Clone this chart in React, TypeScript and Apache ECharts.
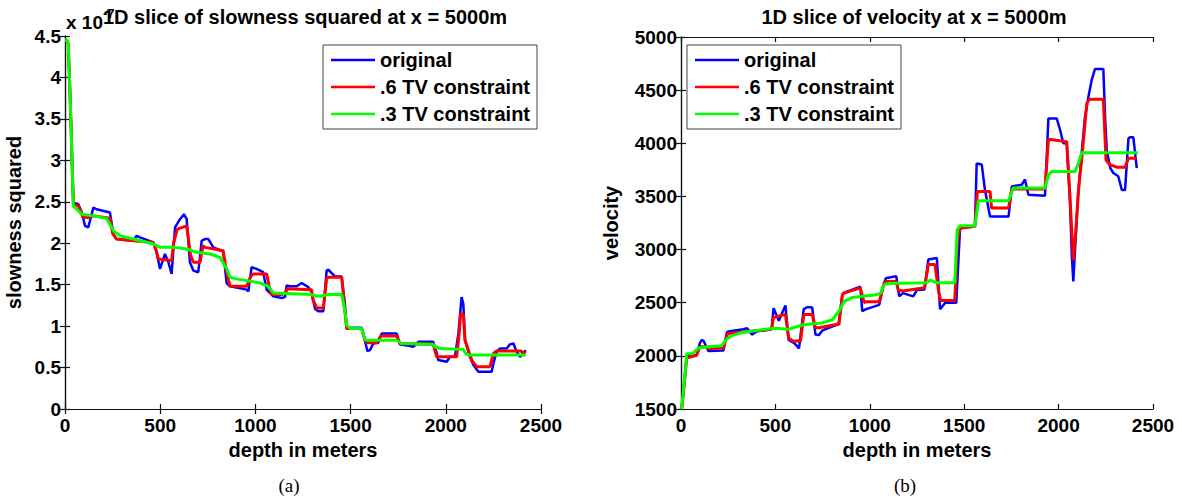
import React, { useEffect, useRef } from "react";
import * as echarts from "echarts";

// ---------- Data ----------
// Slowness squared (x 1e-7), left panel
const slowOrigDepth = [0, 10, 17, 25, 32, 38, 44, 70, 88, 105, 122, 149, 166, 236, 254, 271, 359, 376, 394, 464, 481, 499, 525, 543, 560, 578, 604, 625, 639, 656, 674, 700, 718, 735, 753, 779, 831, 849, 866, 954, 963, 980, 1006, 1041, 1059, 1094, 1138, 1155, 1164, 1181, 1217, 1243, 1278, 1295, 1313, 1330, 1357, 1374, 1383, 1418, 1453, 1470, 1479, 1488, 1558, 1575, 1588, 1602, 1619, 1646, 1663, 1742, 1759, 1812, 1829, 1856, 1934, 1952, 1960, 2005, 2022, 2048, 2066, 2083, 2092, 2101, 2127, 2145, 2171, 2241, 2250, 2267, 2285, 2320, 2337, 2355, 2372, 2390, 2407, 2420];
const slowOrigValue = [4.45, 4.45, 4.4, 3.9, 3.4, 2.9, 2.49, 2.47, 2.37, 2.21, 2.19, 2.43, 2.41, 2.37, 2.11, 2.05, 2.03, 2.09, 2.07, 2.01, 1.89, 1.69, 1.87, 1.77, 1.63, 2.19, 2.29, 2.35, 2.29, 1.77, 1.67, 1.65, 2.03, 2.05, 2.05, 1.95, 1.9, 1.52, 1.48, 1.44, 1.42, 1.71, 1.69, 1.65, 1.44, 1.36, 1.34, 1.35, 1.49, 1.48, 1.48, 1.52, 1.47, 1.41, 1.21, 1.18, 1.18, 1.67, 1.68, 1.6, 1.6, 1.27, 0.99, 0.98, 0.98, 0.83, 0.7, 0.71, 0.79, 0.8, 0.91, 0.91, 0.78, 0.76, 0.75, 0.81, 0.81, 0.68, 0.59, 0.57, 0.63, 0.63, 0.91, 1.35, 1.27, 0.83, 0.63, 0.53, 0.45, 0.45, 0.55, 0.69, 0.73, 0.73, 0.78, 0.79, 0.69, 0.63, 0.67, 0.71];

const slowTv6Depth = [0, 10, 17, 25, 32, 38, 44, 70, 95, 122, 149, 236, 250, 271, 359, 464, 481, 490, 560, 570, 590, 639, 660, 674, 709, 725, 735, 831, 845, 866, 954, 975, 989, 1059, 1075, 1085, 1138, 1155, 1170, 1295, 1304, 1322, 1357, 1374, 1383, 1453, 1470, 1479, 1558, 1575, 1593, 1637, 1655, 1663, 1742, 1759, 1934, 1952, 2057, 2070, 2078, 2092, 2101, 2136, 2162, 2232, 2250, 2267, 2390, 2420];
const slowTv6Value = [4.45, 4.45, 4.4, 3.9, 3.4, 2.9, 2.47, 2.45, 2.31, 2.31, 2.33, 2.3, 2.12, 2.05, 2.03, 2.01, 1.9, 1.81, 1.79, 2.0, 2.17, 2.21, 1.85, 1.77, 1.77, 1.97, 1.95, 1.91, 1.7, 1.48, 1.48, 1.6, 1.63, 1.63, 1.45, 1.38, 1.38, 1.4, 1.45, 1.44, 1.31, 1.22, 1.22, 1.57, 1.59, 1.59, 1.19, 0.97, 0.97, 0.83, 0.8, 0.8, 0.87, 0.88, 0.88, 0.79, 0.78, 0.63, 0.63, 0.9, 1.15, 1.14, 0.83, 0.59, 0.51, 0.51, 0.67, 0.7, 0.7, 0.67];

const slowTv3Depth = [0, 10, 17, 25, 32, 38, 44, 88, 149, 219, 254, 289, 359, 464, 499, 578, 639, 691, 761, 814, 849, 866, 901, 1024, 1068, 1094, 1295, 1322, 1348, 1374, 1453, 1470, 1479, 1500, 1558, 1575, 1584, 1742, 1768, 1934, 1943, 1970, 2057, 2090, 2110, 2127, 2420];
const slowTv3Value = [4.45, 4.45, 4.4, 3.9, 3.4, 2.9, 2.45, 2.35, 2.33, 2.3, 2.15, 2.09, 2.05, 1.99, 1.95, 1.95, 1.93, 1.89, 1.87, 1.83, 1.69, 1.59, 1.57, 1.52, 1.48, 1.4, 1.38, 1.36, 1.36, 1.38, 1.38, 1.19, 1.01, 0.97, 0.97, 0.84, 0.83, 0.83, 0.79, 0.78, 0.75, 0.73, 0.72, 0.72, 0.66, 0.65, 0.65];

// Velocity, right panel
const velOrigDepth = [0, 5, 15, 25, 30, 50, 83, 100, 110, 120, 145, 225, 243, 250, 330, 350, 375, 400, 480, 490, 518, 553, 570, 600, 625, 650, 670, 695, 712, 730, 750, 835, 855, 865, 950, 960, 980, 1050, 1075, 1085, 1140, 1156, 1175, 1230, 1250, 1290, 1310, 1355, 1372, 1400, 1458, 1478, 1557, 1566, 1593, 1610, 1637, 1735, 1752, 1805, 1822, 1840, 1928, 1946, 1990, 2008, 2025, 2043, 2060, 2070, 2078, 2087, 2105, 2122, 2140, 2158, 2175, 2193, 2237, 2246, 2255, 2273, 2290, 2316, 2335, 2352, 2370, 2378, 2396, 2414];
const velOrigValue = [1500, 1520, 1700, 1900, 2000, 2010, 2005, 2120, 2150, 2140, 2045, 2050, 2220, 2230, 2250, 2260, 2200, 2230, 2250, 2450, 2330, 2475, 2150, 2120, 2070, 2440, 2460, 2455, 2200, 2195, 2240, 2300, 2580, 2595, 2650, 2420, 2440, 2480, 2680, 2730, 2750, 2560, 2590, 2560, 2620, 2625, 2906, 2920, 2440, 2500, 2500, 3200, 3220, 3810, 3800, 3560, 3310, 3310, 3594, 3610, 3660, 3515, 3506, 4234, 4234, 4125, 4000, 4000, 3470, 2940, 2700, 3000, 3560, 3906, 4250, 4437, 4594, 4700, 4700, 4250, 3940, 3770, 3720, 3690, 3560, 3560, 4047, 4056, 4056, 3766];

const velTv6Depth = [0, 5, 15, 25, 30, 83, 100, 136, 145, 225, 243, 250, 480, 490, 553, 570, 590, 633, 650, 660, 695, 712, 730, 837, 855, 863, 950, 970, 980, 1050, 1075, 1085, 1140, 1150, 1175, 1290, 1310, 1345, 1365, 1375, 1450, 1465, 1478, 1557, 1570, 1637, 1645, 1735, 1752, 1928, 1946, 2043, 2060, 2078, 2090, 2105, 2122, 2150, 2166, 2237, 2251, 2270, 2308, 2352, 2370, 2414];
const velTv6Value = [1500, 1520, 1700, 1880, 1980, 2005, 2085, 2085, 2070, 2075, 2190, 2210, 2250, 2360, 2390, 2170, 2140, 2140, 2380, 2390, 2390, 2265, 2265, 2300, 2575, 2590, 2640, 2500, 2510, 2510, 2680, 2700, 2700, 2620, 2610, 2640, 2860, 2860, 2600, 2520, 2520, 3100, 3200, 3220, 3547, 3547, 3390, 3390, 3570, 3570, 4037, 4015, 3500, 2900, 3150, 3550, 3844, 4380, 4415, 4415, 3844, 3800, 3775, 3775, 3860, 3860];

const velTv3Depth = [0, 5, 15, 25, 30, 60, 92, 145, 215, 243, 270, 323, 447, 500, 570, 642, 748, 801, 837, 863, 908, 1032, 1058, 1076, 1103, 1300, 1320, 1355, 1450, 1463, 1478, 1557, 1575, 1583, 1735, 1750, 1760, 1928, 1946, 1964, 2087, 2105, 2122, 2420];
const velTv3Value = [1500, 1520, 1720, 1900, 2020, 2020, 2075, 2085, 2095, 2160, 2190, 2220, 2250, 2260, 2250, 2290, 2310, 2340, 2420, 2510, 2550, 2575, 2590, 2670, 2680, 2687, 2712, 2687, 2687, 3187, 3225, 3225, 3453, 3460, 3460, 3530, 3580, 3580, 3703, 3734, 3734, 3812, 3912, 3912];

const seriesNames = ["original", ".6 TV constraint", ".3 TV constraint"];
const seriesColors = ["#0000ff", "#ff0000", "#00ff00"];

// ---------- Chart ----------
const FONT = "'Liberation Sans', Arial, Helvetica, sans-serif";

const zip = (xs: number[], ys: number[]) => xs.map((x, i) => [x, ys[i]]);

export default function App() {
  const ref = useRef<HTMLDivElement>(null);

  useEffect(() => {
    if (!ref.current) return;
    const chart = echarts.init(ref.current, undefined, { renderer: "svg" });

    const axisLine = { show: true, lineStyle: { color: "#111", width: 1.2 } };
    const tick = { show: true, inside: true, length: 5, lineStyle: { color: "#111", width: 1.2 } };
    const labelStyle = {
      fontFamily: FONT,
      fontWeight: "bold" as const,
      fontSize: 19,
      color: "#000",
    };
    const nameStyle = {
      fontFamily: FONT,
      fontWeight: "bold" as const,
      fontSize: 20,
      color: "#000",
    };

    const xBase = (grid: number, pos: "bottom" | "top", main: boolean) => ({
      type: "value",
      gridIndex: grid,
      position: pos,
      min: 0,
      max: 2500,
      interval: 500,
      axisLine,
      axisTick: tick,
      splitLine: { show: false },
      axisLabel: main
        ? { ...labelStyle, margin: 7, formatter: (v: number) => String(v) }
        : { show: false },
      name: main ? "depth in meters" : "",
      nameLocation: "middle",
      nameGap: 28,
      nameTextStyle: nameStyle,
    });

    const yBase = (
      grid: number,
      pos: "left" | "right",
      main: boolean,
      min: number,
      max: number,
      interval: number,
      name: string,
      nameGap: number
    ) => ({
      type: "value",
      gridIndex: grid,
      position: pos,
      min,
      max,
      interval,
      axisLine,
      axisTick: tick,
      splitLine: { show: false },
      axisLabel: main
        ? { ...labelStyle, margin: 4, formatter: (v: number) => String(v) }
        : { show: false },
      name: main ? name : "",
      nameLocation: "middle",
      nameGap,
      nameTextStyle: nameStyle,
    });

    const leftData = [
      zip(slowOrigDepth, slowOrigValue),
      zip(slowTv6Depth, slowTv6Value),
      zip(slowTv3Depth, slowTv3Value),
    ];
    const rightData = [
      zip(velOrigDepth, velOrigValue),
      zip(velTv6Depth, velTv6Value),
      zip(velTv3Depth, velTv3Value),
    ];
    const widths = [2.5, 3, 3];

    const series: any[] = [];
    [leftData, rightData].forEach((set, gi) => {
      set.forEach((d, i) => {
        series.push({
          type: "line",
          name: seriesNames[i],
          xAxisIndex: gi * 2,
          yAxisIndex: gi * 2,
          data: d,
          showSymbol: false,
          symbol: "none",
          color: seriesColors[i],
          lineStyle: { color: seriesColors[i], width: widths[i] },
          silent: true,
          z: 2 + i,
        });
      });
    });

    const legendBase = {
      orient: "vertical",
      top: 45,
      data: seriesNames,
      icon: "rect",
      itemWidth: 44,
      itemHeight: 2.5,
      itemGap: 7,
      padding: [5, 7, 5, 8],
      backgroundColor: "#fff",
      borderColor: "#444",
      borderWidth: 1,
      borderRadius: 0,
      selectedMode: false,
      textStyle: { ...nameStyle, lineHeight: 20 },
    };

    const option: any = {
      animation: false,
      backgroundColor: "#fff",
      grid: [
        { left: 65, right: 1182 - 541, top: 36, bottom: 498 - 409 },
        { left: 681, right: 1182 - 1153, top: 37, bottom: 498 - 409 },
      ],
      xAxis: [
        xBase(0, "bottom", true),
        xBase(0, "top", false),
        xBase(1, "bottom", true),
        xBase(1, "top", false),
      ],
      yAxis: [
        yBase(0, "left", true, 0, 4.5, 0.5, "slowness squared", 41),
        yBase(0, "right", false, 0, 4.5, 0.5, "", 0),
        yBase(1, "left", true, 1500, 5000, 500, "velocity", 60),
        yBase(1, "right", false, 1500, 5000, 500, "", 0),
      ],
      legend: [
        { ...legendBase, left: 323 },
        { ...legendBase, left: 687 },
      ],
      series,
      graphic: [
        {
          type: "text",
          x: 66,
          y: 22,
          style: { text: "x 10", fontFamily: FONT, fontWeight: "bold", fontSize: 19, fill: "#000", textVerticalAlign: "middle" },
          z: 10,
        },
        {
          type: "text",
          x: 103,
          y: 13,
          style: { text: "-7", fontFamily: FONT, fontWeight: "bold", fontSize: 13, fill: "#000", textVerticalAlign: "middle" },
          z: 10,
        },
        {
          type: "text",
          x: 305,
          y: 17,
          style: {
            text: "1D slice of slowness squared at x = 5000m",
            fontFamily: FONT,
            fontWeight: "bold",
            fontSize: 20,
            fill: "#000",
            textAlign: "center",
            textVerticalAlign: "middle",
          },
          z: 11,
        },
        {
          type: "text",
          x: 914,
          y: 17,
          style: {
            text: "1D slice of velocity at x = 5000m",
            fontFamily: FONT,
            fontWeight: "bold",
            fontSize: 20,
            fill: "#000",
            textAlign: "center",
            textVerticalAlign: "middle",
          },
          z: 11,
        },
        {
          type: "text",
          x: 289,
          y: 485,
          style: { text: "(a)", fontFamily: "'Liberation Serif', 'DejaVu Serif', serif", fontSize: 19, fill: "#000", textAlign: "center", textVerticalAlign: "middle" },
        },
        {
          type: "text",
          x: 905,
          y: 485,
          style: { text: "(b)", fontFamily: "'Liberation Serif', 'DejaVu Serif', serif", fontSize: 19, fill: "#000", textAlign: "center", textVerticalAlign: "middle" },
        },
      ],
    };

    chart.setOption(option);
    return () => chart.dispose();
  }, []);

  return (
    <div
      ref={ref}
      style={{ position: "absolute", left: 0, top: 0, width: 1182, height: 498, background: "#fff" }}
    />
  );
}
